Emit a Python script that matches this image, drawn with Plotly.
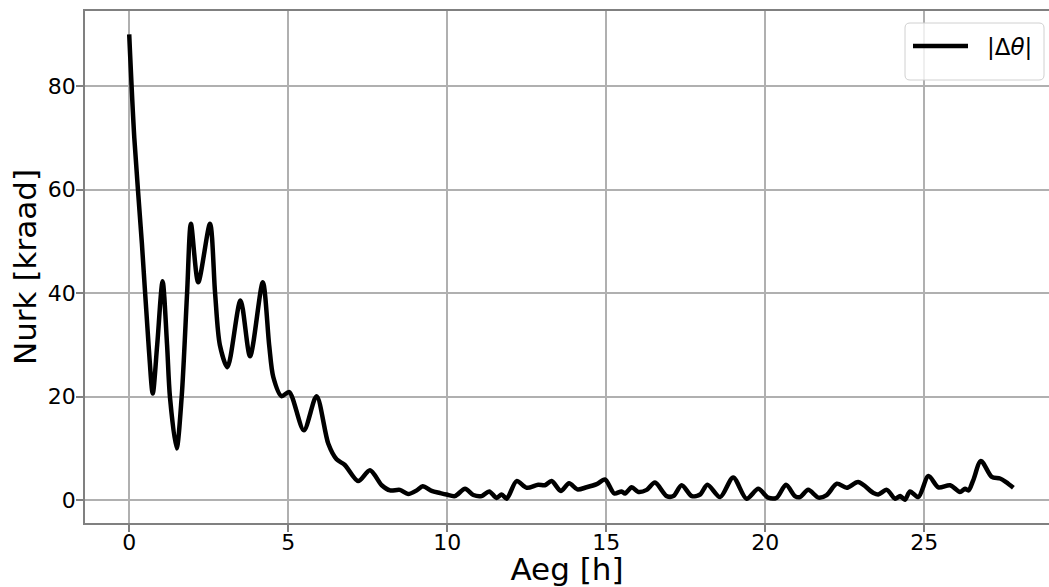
import plotly.graph_objects as go

# time [h]
aeg = [0, 0.16, 0.40, 0.62, 0.74, 0.88, 1.05, 1.19, 1.28, 1.49, 1.65, 1.82, 1.94,
       2.17, 2.54, 2.70, 2.85, 3.09, 3.50, 3.80, 4.20, 4.40, 4.53, 4.79, 5.03,
       5.49, 5.89, 6.26, 6.52, 6.78, 7.20, 7.57, 7.94, 8.20, 8.51, 8.77, 9.04, 9.23, 9.51,
       9.77, 9.98, 10.24, 10.56, 10.82, 11.08, 11.32, 11.55, 11.71, 11.87, 12.18, 12.50,
       12.86, 13.07, 13.28, 13.57, 13.83, 14.09, 14.38, 14.70, 14.96, 15.25, 15.48, 15.59,
       15.80, 16.01, 16.27, 16.53, 16.90, 17.11, 17.37, 17.69, 17.95, 18.18, 18.58, 18.99,
       19.41, 19.78, 20.09, 20.36, 20.65, 20.93, 21.09, 21.35, 21.67, 21.93, 22.25, 22.56,
       22.92, 23.40, 23.55, 23.82, 24.08, 24.24, 24.39, 24.55, 24.81, 25.13, 25.44, 25.81,
       26.12, 26.28, 26.39, 26.54, 26.78, 27.12, 27.38, 27.57, 27.80]
# |delta theta| [kraad]
nurk = [90.0, 70.0, 49.5, 29.0, 20.6, 30.0, 42.3, 30.0, 20.0, 10.0, 20.0, 40.0, 53.4,
        42.1, 53.4, 40.0, 30.0, 25.7, 38.6, 27.8, 42.1, 30.0, 23.8, 20.1, 20.9,
        13.5, 20.1, 10.9, 7.9, 6.8, 3.7, 5.8, 2.9, 1.9, 2.0, 1.2, 1.9, 2.7, 1.8,
        1.4, 1.1, 0.8, 2.2, 1.0, 0.8, 1.7, 0.45, 1.1, 0.3, 3.7, 2.4,
        3.0, 2.9, 3.7, 1.8, 3.3, 2.1, 2.5, 3.1, 4.0, 1.3, 1.7, 1.3,
        2.5, 1.6, 2.0, 3.4, 0.8, 0.8, 2.9, 0.8, 1.1, 3.0, 0.6, 4.4,
        0.3, 2.2, 0.5, 0.5, 3.0, 0.8, 0.6, 2.0, 0.5, 1.0, 3.2, 2.4,
        3.5, 1.4, 1.1, 2.0, 0.3, 0.8, 0.1, 1.7, 0.6, 4.7, 2.5, 2.9,
        1.6, 2.2, 1.9, 3.9, 7.6, 4.5, 4.2, 3.5, 2.4]

x_ticks = [0, 5, 10, 15, 20, 25]
y_ticks = [0, 20, 40, 60, 80]
legend_label = "|Δ<i>θ</i>|"

FONT = "DejaVu Sans"
W, H = 1049, 587
ML, MR, MT, MB = 85, 0, 11, 64
PW, PH = W - ML - MR, H - MT - MB


def px_x(p):
    return (p - ML) / PW


def px_y(p):
    return (H - MB - p) / PH


fig = go.Figure()
fig.add_trace(go.Scatter(
    x=aeg, y=nurk, mode="lines", name=legend_label, showlegend=False,
    line=dict(color="black", width=4.5, shape="spline", smoothing=0.8),
))

axis_common = dict(
    showgrid=True, gridcolor="#b0b0b0", gridwidth=2,
    zeroline=False, showline=True, linecolor="#808080", linewidth=1.5,
    ticks="outside", ticklen=7, tickwidth=1.5, tickcolor="#808080",
    tickfont=dict(family=FONT, size=22, color="black"),
)

# legend box (matplotlib-like, rounded corners)
x0, x1, y0, y1 = px_x(905), px_x(1044), px_y(80), px_y(23)
rx, ry = 5 / PW, 5 / PH
path = (f"M{x0+rx},{y0} L{x1-rx},{y0} Q{x1},{y0} {x1},{y0+ry} L{x1},{y1-ry} "
        f"Q{x1},{y1} {x1-rx},{y1} L{x0+rx},{y1} Q{x0},{y1} {x0},{y1-ry} "
        f"L{x0},{y0+ry} Q{x0},{y0} {x0+rx},{y0} Z")
shapes = [
    dict(type="path", path=path, xref="paper", yref="paper",
         fillcolor="rgba(255,255,255,0.8)", line=dict(color="#d0d0d0", width=1), layer="above"),
    dict(type="line", xref="paper", yref="paper", x0=px_x(913), x1=px_x(968),
         y0=px_y(46), y1=px_y(46), line=dict(color="black", width=4.5), layer="above"),
]
annotations = [
    dict(text=legend_label, xref="paper", yref="paper", x=px_x(985), y=px_y(47),
         xanchor="left", yanchor="middle", showarrow=False,
         font=dict(family=FONT, size=23, color="black")),
]

fig.update_layout(
    width=W, height=H,
    margin=dict(l=ML, r=MR, t=MT, b=MB, pad=0),
    paper_bgcolor="white", plot_bgcolor="white",
    font=dict(family=FONT, color="black"),
    shapes=shapes, annotations=annotations,
    xaxis=dict(
        axis_common, range=[-1.39, 28.92], tickvals=x_ticks,
        ticktext=[str(v) for v in x_ticks], mirror=True, ticklabelstandoff=-8,
        title=dict(text="Aeg [h]", font=dict(family=FONT, size=31, color="black"), standoff=12),
    ),
    yaxis=dict(
        axis_common, range=[-4.4, 94.5], tickvals=y_ticks,
        ticktext=[str(v) for v in y_ticks], ticklabelstandoff=-4,
        title=dict(text="Nurk [kraad]", font=dict(family=FONT, size=31, color="black"), standoff=2),
    ),
)
fig.update_xaxes(automargin=False)
fig.update_yaxes(automargin=False)

fig.write_html("out.html", config={"displayModeBar": False},
               post_script="document.body.style.margin='0';document.body.style.overflow='hidden';")
